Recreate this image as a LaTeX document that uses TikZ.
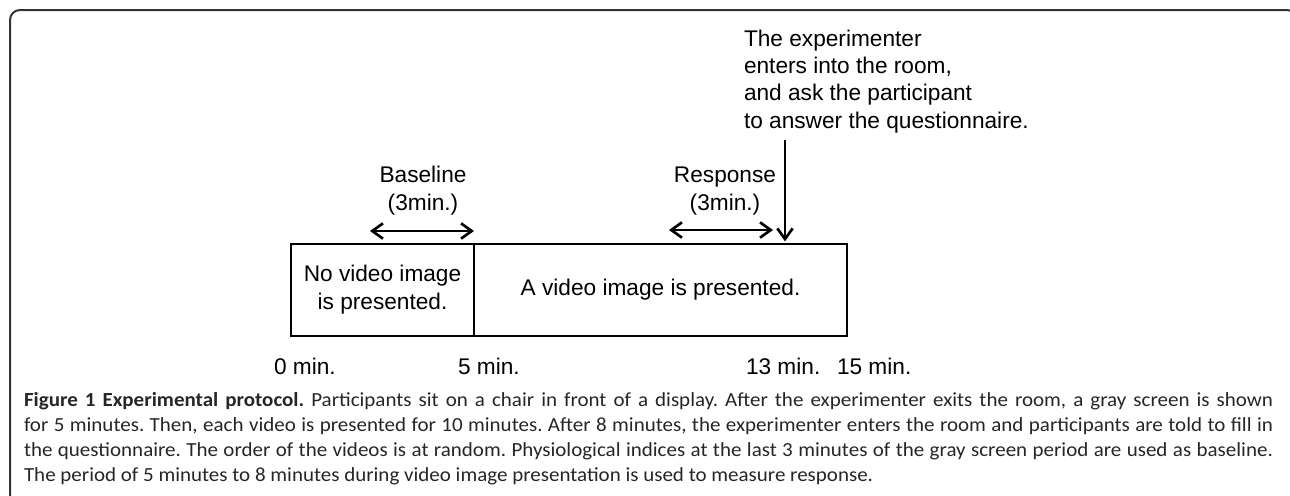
\documentclass[tikz,border=0pt]{standalone}
\usepackage{fontspec}
\setmainfont{Liberation Sans}
\newfontfamily\capfont[FakeStretch=1.05]{Carlito}
\usetikzlibrary{arrows.meta,positioning}

\begin{document}
\begin{tikzpicture}[x=0.75pt,y=-0.75pt,
    >={Straight Barb[length=8pt,width=11.5pt]},
    every node/.style={inner sep=0pt,outer sep=0pt,
        font=\fontsize{17}{20.5}\selectfont},
    period/.style={draw,line width=1.4pt,align=center,minimum height=69pt,
        font=\fontsize{17}{21}\selectfont},
    span/.style={<->,line width=2pt},
    tick/.style={anchor=base west},
    caption/.style={anchor=base west,align=justify,text width=936.75pt,
        text=black!85,font=\capfont\fontsize{15}{18.75}\selectfont\frenchspacing}]
    \pgfmathsetmacro{\ya}{244}
    \pgfmathsetmacro{\yb}{336}
    \pgfmathsetmacro{\ytick}{374}
    \useasboundingbox (0,0) rectangle (1290,496);

    % Draw the frame
    \draw [black!80,line width=1.5pt,rounded corners=7.5pt]
        (10,500) -- (10,10) -- (1297,10) -- (1297,40);

    % Draw the two periods
    \node [period,minimum width=137.25pt] (nobox) at (382.5,{(\ya+\yb)/2})
        {No video image\\is presented.};
    \node [period,minimum width=279.75pt] (vidbox) at (660.5,{(\ya+\yb)/2})
        {A video image is presented.};

    % Time marks
    \node [tick] (t0) at (274,\ytick) {0 min.};
    \node [tick] (t5) at (458,\ytick) {5 min.};
    \node [tick] (t13) at (746,\ytick) {13 min.};
    \node [tick] (t15) at (837,\ytick) {15 min.};

    % Baseline and response windows
    \coordinate (bl0) at (370,231);
    \coordinate (bl1) at (474,231);
    \coordinate (rs0) at (669,230);
    \coordinate (rs1) at (773,230);
    \draw [span] (bl0) -- (bl1);
    \draw [span] (rs0) -- (rs1);
    \node [anchor=base,align=center] (base) at (423,210) {Baseline\\(3min.)};
    \node [anchor=base,align=center] (resp) at (725,210) {Response\\(3min.)};

    % The experimenter enters
    \node [anchor=base west,align=left] (enter) at (744,128)
        {The experimenter\\enters into the room,\\and ask the participant\\to answer the questionnaire.};
    \coordinate (en0) at (785,140);
    \draw [->,line width=2pt,shorten >=2pt] (en0) -- (en0 |- vidbox.north);

    % Caption
    \node [caption] (cap) at (24,406)
        {\textbf{Figure 1 Experimental protocol.} Participants sit on a chair in front of a display. After the experimenter exits the room, a gray screen is shown\linebreak
        for 5 minutes. Then, each video is presented for 10 minutes. After 8 minutes, the experimenter enters the room and participants are told to fill in\linebreak
        the questionnaire. The order of the videos is at random. Physiological indices at the last 3 minutes of the gray screen period are used as baseline.\linebreak
        The period of 5 minutes to 8 minutes during video image presentation is used to measure response.};

\end{tikzpicture}
\end{document}
